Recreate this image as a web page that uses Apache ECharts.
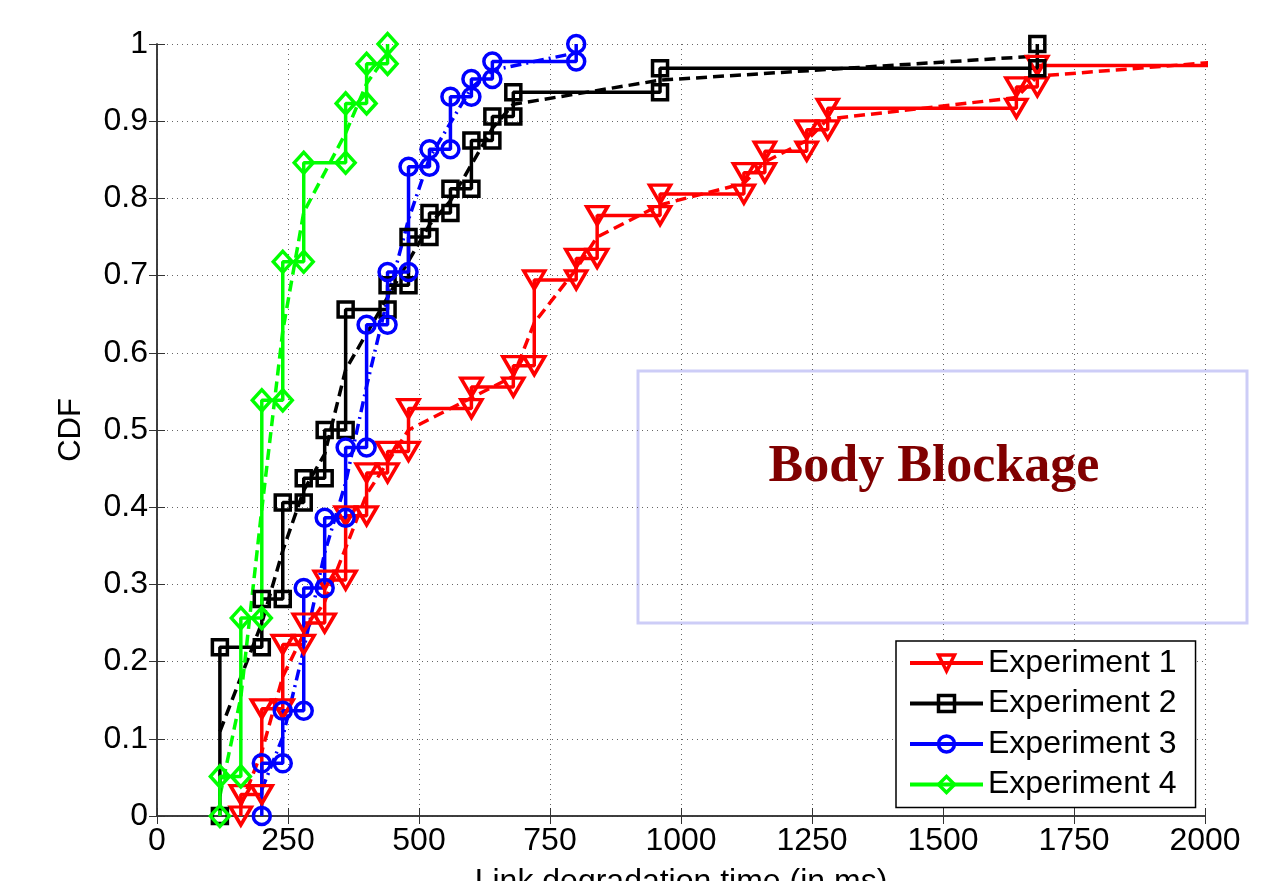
<!DOCTYPE html>
<html>
<head>
<meta charset="utf-8" />
<title>Body Blockage CDF</title>
<script src="https://cdn.jsdelivr.net/npm/echarts@6/dist/echarts.min.js"></script>
<style>
  html, body { margin: 0; padding: 0; background: #fff; }
  #main { width: 1283px; height: 881px; }
</style>
</head>
<body>
<div id="main"></div>
<script>
// step positions (ms) and cumulative counts after each step, n = sample size
var exp1X = [160, 200, 240, 280, 320, 360, 400, 440, 480, 600, 680, 720, 800, 840, 960, 1120, 1160, 1240, 1280, 1640, 1680, 2200];
var exp1Count = [1, 5, 8, 9, 11, 14, 16, 17, 19, 20, 21, 25, 26, 28, 29, 30, 31, 32, 33, 34, 35, 36];
var exp1N = 36;

var exp2X = [120, 200, 240, 280, 320, 360, 440, 480, 520, 560, 600, 640, 680, 960, 1680];
var exp2Count = [7, 9, 13, 14, 16, 21, 22, 24, 25, 26, 28, 29, 30, 31, 32];
var exp2N = 32;

var exp3X = [200, 240, 280, 320, 360, 400, 440, 480, 520, 560, 600, 640, 800];
var exp3Count = [3, 6, 13, 17, 21, 28, 31, 37, 38, 41, 42, 43, 44];
var exp3N = 44;

var exp4X = [120, 160, 200, 240, 280, 360, 400, 440];
var exp4Count = [2, 10, 21, 28, 33, 36, 38, 39];
var exp4N = 39;

var names = ['Experiment 1', 'Experiment 2', 'Experiment 3', 'Experiment 4'];
var colors = ['#ff0000', '#000000', '#0000ff', '#00ff00'];

// staircase: vertical at each x, then horizontal to the next x
function stairs(xs, counts, n) {
  var out = [];
  var prev = 0;
  for (var i = 0; i < xs.length; i++) {
    out.push([xs[i], prev]);
    prev = counts[i] / n;
    out.push([xs[i], prev]);
  }
  return out;
}
// dashed: through the middle of each vertical step
function mids(xs, counts, n) {
  var out = [];
  var prev = 0;
  for (var i = 0; i < xs.length; i++) {
    var cur = counts[i] / n;
    out.push([xs[i], (prev + cur) / 2]);
    prev = cur;
  }
  return out;
}

var sets = [
  [exp1X, exp1Count, exp1N],
  [exp2X, exp2Count, exp2N],
  [exp3X, exp3Count, exp3N],
  [exp4X, exp4Count, exp4N]
];
var symbols = ['triangle', 'rect', 'circle', 'diamond'];
var symSizes = [[21, 18], 15, 17, [19, 21]];
var rotates = [180, 0, 0, 0];
var dashes = [[11, 6], [11, 6], [11, 5, 2, 5], [11, 6]];

var series = [];
sets.forEach(function(s, k) {
  series.push({
    name: names[k] + ' fit',
    type: 'line',
    data: mids(s[0], s[1], s[2]),
    showSymbol: false,
    lineStyle: { color: colors[k], width: 3.5, type: dashes[k] },
    z: 2
  });
});
sets.forEach(function(s, k) {
  series.push({
    name: names[k],
    type: 'line',
    data: stairs(s[0], s[1], s[2]),
    symbol: symbols[k],
    symbolSize: symSizes[k],
    symbolRotate: rotates[k],
    showSymbol: true,
    lineStyle: { color: colors[k], width: 3.5 },
    itemStyle: { color: 'rgba(0,0,0,0)', borderColor: colors[k], borderWidth: 3.5 },
    z: 3
  });
});

var chart = echarts.init(document.getElementById('main'));
var font = 'Liberation Sans, Arial, sans-serif';
chart.setOption({
  animation: false,
  backgroundColor: '#fff',
  grid: { left: 157, top: 44, width: 1048, height: 772, outerBoundsMode: 'none' },
  legend: {
    data: names,
    orient: 'vertical',
    left: 896,
    top: 641,
    padding: [6, 19, 7, 12],
    itemGap: 8.5,
    itemWidth: 73,
    itemHeight: 20,
    backgroundColor: '#fff',
    borderColor: '#000',
    borderWidth: 1.5,
    borderRadius: 0,
    lineStyle: { width: 4 },
    itemStyle: { borderWidth: 3.5 },
    textStyle: { fontFamily: font, fontSize: 32, color: '#000' },
    z: 20
  },
  xAxis: [{
    type: 'value',
    min: 0, max: 2000, interval: 250,
    name: 'Link degradation time (in ms)',
    nameLocation: 'middle',
    nameGap: 50,
    nameTextStyle: { fontFamily: font, fontSize: 32, color: '#000' },
    axisLine: { lineStyle: { color: '#333', width: 1.5 } },
    axisTick: { inside: true, length: 8, lineStyle: { color: '#333' } },
    axisLabel: { fontFamily: font, fontSize: 32, color: '#000', margin: 9,
      formatter: function(v) { return String(v); } },
    splitLine: { show: true, lineStyle: { color: '#666', type: [1, 4], width: 1 } }
  }, {
    type: 'value', position: 'top',
    min: 0, max: 2000, interval: 250,
    axisLine: { show: true, lineStyle: { color: '#333', width: 1.5 } },
    axisTick: { show: true, inside: true, length: 8, lineStyle: { color: '#333' } },
    axisLabel: { show: false },
    splitLine: { show: false }
  }],
  yAxis: [{
    type: 'value',
    min: 0, max: 1, interval: 0.1,
    name: 'CDF',
    nameLocation: 'middle',
    nameGap: 70,
    nameRotate: 90,
    nameTextStyle: { fontFamily: font, fontSize: 31, color: '#000' },
    axisLine: { show: true, lineStyle: { color: '#333', width: 1.5 } },
    axisTick: { show: true, inside: true, length: 8, lineStyle: { color: '#333' } },
    axisLabel: { fontFamily: font, fontSize: 32, color: '#000', margin: 9 },
    splitLine: { show: true, lineStyle: { color: '#666', type: [1, 4], width: 1 } }
  }, {
    type: 'value', position: 'right',
    min: 0, max: 1, interval: 0.1,
    axisLine: { show: true, lineStyle: { color: '#333', width: 1.5 } },
    axisTick: { show: true, inside: true, length: 8, lineStyle: { color: '#333' } },
    axisLabel: { show: false },
    splitLine: { show: false }
  }],
  graphic: [{
    type: 'group',
    z: 10,
    children: [{
      type: 'rect',
      shape: { x: 638, y: 371, width: 609, height: 252 },
      style: { fill: '#fff', stroke: '#cdcdf7', lineWidth: 3 }
    }, {
      type: 'text',
      x: 934, y: 468,
      style: {
        text: 'Body Blockage',
        fill: '#800000',
        font: 'bold 52px "Liberation Serif", "Times New Roman", serif',
        textAlign: 'center',
        textVerticalAlign: 'middle'
      }
    }]
  }],
  series: series
});

window.onresize = function() {
  chart.resize();
};
</script>
</body>
</html>
